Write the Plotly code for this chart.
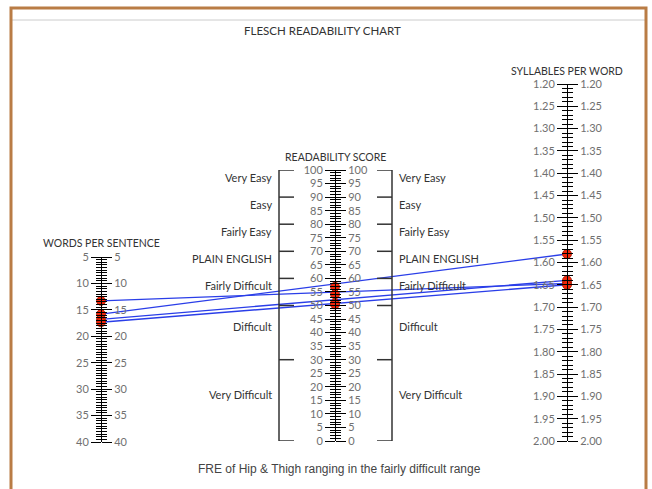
import plotly.graph_objects as go

W, H = 652, 489

# ---------------- data ----------------
wps_values = [13.3, 15.8, 16.8, 17.35]       # words per sentence
spw_values = [1.647, 1.581, 1.640, 1.650]    # syllables per word
fre_values = [54.1, 56.9, 50.8, 50.4]        # Flesch reading ease score

fre_bounds = [0, 30, 50, 60, 70, 80, 90, 100]
fre_labels = ["Very Difficult", "Difficult", "Fairly Difficult", "PLAIN ENGLISH",
              "Fairly Easy", "Easy", "Very Easy"]

title_text = "FLESCH READABILITY CHART"
footer_text = "FRE of Hip &amp; Thigh ranging in the fairly difficult range"

# ---------------- layout constants (pixels) ----------------
X_WPS, X_FRE, X_SPW = 101, 335, 567
WPS_RANGE, WPS_PX = (5, 40), (257, 442)
FRE_RANGE, FRE_PX = (100, 0), (170, 441)
SPW_RANGE, SPW_PX = (1.20, 2.00), (84, 441)


def to_px(v, rng, px):
    return px[0] + (v - rng[0]) / (rng[1] - rng[0]) * (px[1] - px[0])


def domain(px):
    return [(H - px[1]) / H, (H - px[0]) / H]


TICK_FONT = dict(family="Lato", size=11, color="#707070")
LABEL_FONT = dict(family="Lato", size=11, color="#333333")
TITLE_FONT = dict(family="Lato", size=10.5, color="#333333")

fig = go.Figure()

# connecting lines on a hidden pixel axis (y)
for w, s in zip(wps_values, spw_values):
    fig.add_trace(go.Scatter(
        x=[X_WPS, X_SPW],
        y=[to_px(w, WPS_RANGE, WPS_PX), to_px(s, SPW_RANGE, SPW_PX)],
        mode="lines", line=dict(color="#2a3ee8", width=1.4),
        xaxis="x", yaxis="y", hoverinfo="skip", showlegend=False))

marker_style = dict(size=9, color="#f3260a", line=dict(color="#a31800", width=0.8))

scales = [
    ("y2", "y5", (40, 5), WPS_PX, X_WPS, 5, 5, 0.5, "d", wps_values),
    ("y3", "y6", (0, 100), FRE_PX, X_FRE, 0, 5, 1, "d", fre_values),
    ("y4", "y7", (2.0, 1.2), SPW_PX, X_SPW, 1.2, 0.05, 0.01, ".2f", spw_values),
]

layout_axes = {}
for left, right, rng, px, xpos, t0, dt, mdt, fmt, vals in scales:
    fig.add_trace(go.Scatter(x=[xpos] * len(vals), y=vals, mode="markers",
                             marker=marker_style, xaxis="x", yaxis=left,
                             hoverinfo="skip", showlegend=False))
    fig.add_trace(go.Scatter(x=[xpos], y=[vals[0]], mode="markers",
                             marker=dict(opacity=0), xaxis="x", yaxis=right,
                             hoverinfo="skip", showlegend=False))
    for name, side in ((left, "left"), (right, "right")):
        layout_axes["yaxis" + name[1:]] = dict(
            domain=domain(px), range=list(rng), automargin=False,
            anchor="free", position=xpos / W, side=side,
            showgrid=False, zeroline=False, showline=True, linecolor="black", linewidth=1,
            ticks="outside", ticklen=10, tickwidth=1, tickcolor="black",
            tick0=t0, dtick=dt, tickformat=fmt, tickfont=TICK_FONT,
            minor=dict(ticks="outside", dtick=mdt, ticklen=5, tickcolor="black", tickwidth=1,
                       showgrid=False),
        )

shapes = []
annotations = []

# readability brackets
FRE_LX, FRE_RX, BR = 279, 392, 15
for xv in (FRE_LX, FRE_RX):
    shapes.append(dict(type="line", xref="x", yref="y3", x0=xv, x1=xv,
                       y0=fre_bounds[0], y1=fre_bounds[-1], line=dict(color="#333", width=1.5)))
for b in fre_bounds:
    shapes.append(dict(type="line", xref="x", yref="y3", x0=FRE_LX, x1=FRE_LX + BR,
                       y0=b, y1=b, line=dict(color="#333", width=1.5)))
    shapes.append(dict(type="line", xref="x", yref="y3", x0=FRE_RX - BR, x1=FRE_RX,
                       y0=b, y1=b, line=dict(color="#333", width=1.5)))
for lo, hi, lab in zip(fre_bounds[:-1], fre_bounds[1:], fre_labels):
    mid = (lo + hi) / 2
    annotations.append(dict(x=FRE_LX - 5, y=mid, xref="x", yref="y3", text=lab,
                            xanchor="right", yanchor="middle", yshift=6,
                            showarrow=False, font=LABEL_FONT))
    annotations.append(dict(x=FRE_RX + 5, y=mid, xref="x", yref="y3", text=lab,
                            xanchor="left", yanchor="middle", yshift=6,
                            showarrow=False, font=LABEL_FONT))

# axis titles
for text, xpos, ypx in (("WORDS PER SENTENCE", X_WPS, 243),
                        ("READABILITY SCORE", X_FRE, 157),
                        ("SYLLABLES PER WORD", X_SPW, 71)):
    annotations.append(dict(x=xpos, y=ypx, xref="x", yref="y", text=text,
                            xanchor="center", yanchor="middle", showarrow=False,
                            font=TITLE_FONT))

annotations.append(dict(x=322, y=30, xref="x", yref="y", text=title_text,
                        xanchor="center", yanchor="middle", showarrow=False,
                        font=dict(family="Lato", size=11.5, color="#333333")))
annotations.append(dict(x=339, y=469, xref="x", yref="y", text=footer_text,
                        xanchor="center", yanchor="middle", showarrow=False,
                        font=dict(family="Liberation Sans", size=12, color="#444444")))

# frame
shapes.append(dict(type="line", xref="paper", yref="paper", x0=12 / W, x1=645 / W,
                   y0=1 - 20 / H, y1=1 - 20 / H, line=dict(color="#cccccc", width=1)))
shapes.append(dict(type="rect", xref="paper", yref="paper", x0=11 / W, x1=646 / W,
                   y0=-0.1, y1=1 - 8 / H, line=dict(color="#b97c45", width=3)))

fig.update_layout(
    width=W, height=H, margin=dict(l=0, r=0, t=0, b=0, autoexpand=False),
    paper_bgcolor="white", plot_bgcolor="rgba(0,0,0,0)",
    xaxis=dict(range=[0, W], domain=[0, 1], visible=False, fixedrange=True, automargin=False),
    yaxis=dict(range=[H, 0], domain=[0, 1], visible=False, fixedrange=True, automargin=False),
    shapes=shapes, annotations=annotations, showlegend=False,
    **layout_axes,
)

fig.write_html("out.html", config={"displayModeBar": False, "staticPlot": True},
               post_script="document.body.style.margin='0';document.body.style.overflow='hidden';")
